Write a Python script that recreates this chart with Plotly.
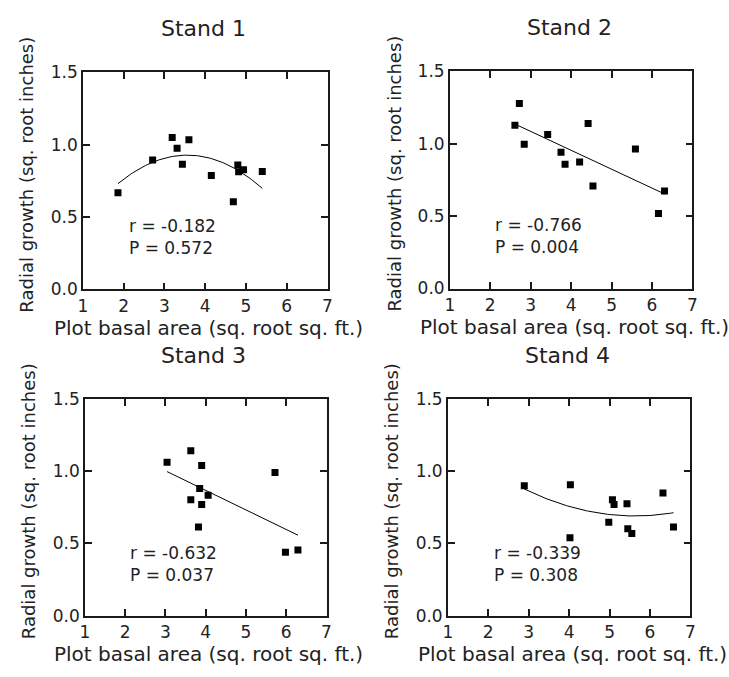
import numpy as np
import plotly.graph_objects as go

# ---- data ----
stand_names = ["Stand 1", "Stand 2", "Stand 3", "Stand 4"]

s1_x = [1.86, 2.71, 3.19, 3.31, 3.60, 3.44, 4.15, 4.69, 4.80, 4.82, 4.94, 5.40]
s1_y = [0.667, 0.893, 1.049, 0.975, 1.033, 0.864, 0.786, 0.605, 0.859, 0.813, 0.826, 0.815]

s2_x = [2.72, 2.61, 2.84, 3.42, 3.75, 3.85, 4.21, 4.42, 4.54, 5.59, 6.31, 6.16]
s2_y = [1.276, 1.127, 0.996, 1.062, 0.940, 0.858, 0.873, 1.138, 0.707, 0.962, 0.673, 0.518]

s3_x = [3.04, 3.63, 3.90, 5.72, 3.85, 4.06, 3.63, 3.90, 3.82, 5.98, 6.29]
s3_y = [1.063, 1.142, 1.040, 0.991, 0.881, 0.834, 0.802, 0.769, 0.613, 0.438, 0.454]

s4_x = [2.89, 4.03, 4.02, 5.07, 5.11, 5.43, 4.98, 5.45, 5.55, 6.32, 6.58]
s4_y = [0.899, 0.906, 0.539, 0.802, 0.769, 0.775, 0.647, 0.602, 0.569, 0.849, 0.613]

fit_degree = [2, 1, 1, 2]
r_values = ["-0.182", "-0.766", "-0.632", "-0.339"]
p_values = ["0.572", "0.004", "0.037", "0.308"]

x_ticks = [1, 2, 3, 4, 5, 6, 7]
y_ticks = [0.0, 0.5, 1.0, 1.5]
y_tick_labels = ["0.0", "0.5", "1.0", "1.5"]

x_title = "Plot basal area (sq. root sq. ft.)"
y_title = "Radial growth (sq. root inches)"

# ---- layout (pixel frames of each panel) ----
W, H = 729, 677
frames = [  # left, right, top, bottom in pixels
    (79, 327, 64, 288),
    (451, 697, 63, 287),
    (81, 326, 401, 624),
    (449, 695, 401, 624),
]

FONT = "DejaVu Sans"
TXT = "#222"
xs = [s1_x, s2_x, s3_x, s4_x]
ys = [s1_y, s2_y, s3_y, s4_y]

fig = go.Figure()
annotations = []
layout_axes = {}

for i in range(4):
    l, r, t, b = frames[i]
    xn = "x" if i == 0 else f"x{i+1}"
    yn = "y" if i == 0 else f"y{i+1}"
    xa = "xaxis" if i == 0 else f"xaxis{i+1}"
    ya = "yaxis" if i == 0 else f"yaxis{i+1}"

    x = np.array(xs[i])
    y = np.array(ys[i])
    coef = np.polyfit(x, y, fit_degree[i])
    xf = np.linspace(x.min(), x.max(), 80)
    yf = np.polyval(coef, xf)

    fig.add_trace(go.Scatter(x=xf, y=yf, mode="lines", xaxis=xn, yaxis=yn,
                             line=dict(color="black", width=1), showlegend=False,
                             hoverinfo="skip"))
    fig.add_trace(go.Scatter(x=x, y=y, mode="markers", xaxis=xn, yaxis=yn,
                             marker=dict(symbol="square", size=7, color="black",
                                         line=dict(width=0)),
                             showlegend=False))

    common = dict(showline=True, linecolor="#1a1a1a", linewidth=1.5, mirror="ticks",
                  ticks="inside", ticklen=7, tickwidth=1.5, tickcolor="#1a1a1a",
                  showgrid=False, zeroline=False,
                  tickfont=dict(family=FONT, size=17, color=TXT))
    layout_axes[xa] = dict(common, domain=[l / W, r / W], range=[1, 7],
                           tickvals=x_ticks, anchor=yn)
    layout_axes[ya] = dict(common, domain=[1 - b / H, 1 - t / H], range=[0, 1.5],
                           tickvals=y_ticks, ticktext=y_tick_labels, anchor=xn)

    cx = (l + r) / 2
    cy = (t + b) / 2
    # panel title
    annotations.append(dict(text=stand_names[i], xref="paper", yref="paper",
                            x=(cx - 2) / W, y=1 - (t - 45) / H, xanchor="center", yanchor="middle",
                            showarrow=False, font=dict(family=FONT, size=22, color=TXT)))
    # x title
    annotations.append(dict(text=x_title, xref="paper", yref="paper",
                            x=(cx + 3) / W, y=1 - (b + 40) / H, xanchor="center", yanchor="middle",
                            showarrow=False, font=dict(family=FONT, size=20, color=TXT)))
    # y title
    annotations.append(dict(text=y_title, xref="paper", yref="paper", textangle=-90,
                            x=(l - 57) / W, y=1 - (cy - 6) / H, xanchor="center", yanchor="middle",
                            showarrow=False, font=dict(family=FONT, size=18, color=TXT)))
    # stats
    annotations.append(dict(text=f"r = {r_values[i]}<br>P = {p_values[i]}", xref=xn, yref=yn,
                            x=2.08, y=0.36, xanchor="left", yanchor="middle", align="left",
                            showarrow=False,
                            font=dict(family=FONT, size=17, color=TXT)))

fig.update_layout(width=W, height=H, margin=dict(l=0, r=0, t=0, b=0),
                  paper_bgcolor="white", plot_bgcolor="white",
                  annotations=annotations, **layout_axes)

fig.write_html("out.html")
